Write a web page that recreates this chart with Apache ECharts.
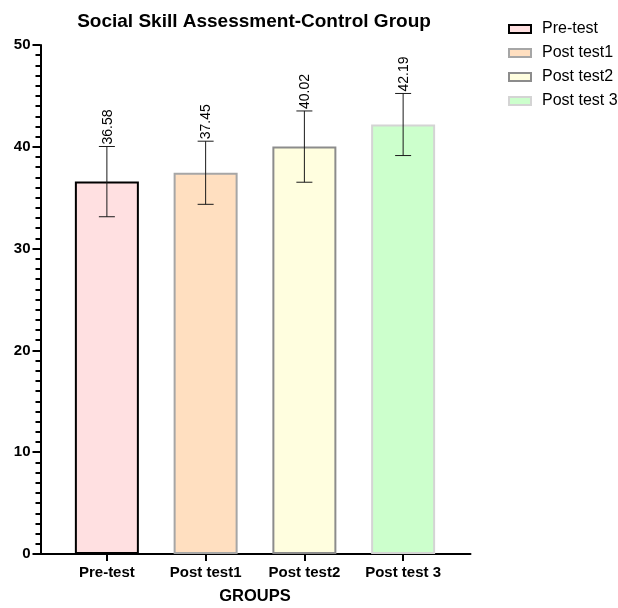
<!DOCTYPE html>
<html>
<head>
<meta charset="utf-8">
<script src="https://cdn.jsdelivr.net/npm/echarts@6/dist/echarts.min.js"></script>
<style>
  html, body { margin: 0; padding: 0; background: #fff; }
  #chart { width: 618px; height: 608px; }
</style>
</head>
<body>
<div id="chart"></div>
<script>
// Group labels and their means / standard deviations
const categories = ['Pre-test', 'Post test1', 'Post test2', 'Post test 3'];
const means = [36.58, 37.45, 40.02, 42.19];
const sds = [3.45, 3.1, 3.5, 3.05];
const fills = ['#FFE0E1', '#FFDFC0', '#FFFEDF', '#CCFFCC'];
const borders = ['#000000', '#A6A6A6', '#8C8C8C', '#D4D4D4'];
const yTicks = [0, 10, 20, 30, 40, 50];

const FONT = 'Liberation Sans, Arial, sans-serif';
const chart = echarts.init(document.getElementById('chart'), null, { renderer: 'canvas' });

// One bar series per group so each gets its own legend entry
const barSeries = categories.map((name, i) => ({
  name: name,
  type: 'bar',
  xAxisIndex: 0,
  yAxisIndex: 0,
  barWidth: 64,
  barGap: '-100%',
  data: categories.map((c, j) => (j === i ? means[i] : '-')),
  itemStyle: { color: fills[i], borderColor: borders[i], borderWidth: 2 },
  emphasis: { disabled: true },
  z: 2
}));

// Error bars with the mean printed above the upper cap
const errorSeries = {
  type: 'custom',
  xAxisIndex: 0,
  yAxisIndex: 0,
  data: categories.map((c, i) => [i, means[i] - sds[i], means[i] + sds[i], means[i]]),
  renderItem: function (params, api) {
    const x = api.value(0);
    const lo = api.coord([x, api.value(1)]);
    const hi = api.coord([x, api.value(2)]);
    const half = 8;
    const style = { stroke: '#1a1a1a', lineWidth: 1 };
    return {
      type: 'group',
      children: [
        { type: 'line', shape: { x1: hi[0], y1: hi[1], x2: lo[0], y2: lo[1] }, style: style },
        { type: 'line', shape: { x1: hi[0] - half, y1: hi[1], x2: hi[0] + half, y2: hi[1] }, style: style },
        { type: 'line', shape: { x1: lo[0] - half, y1: lo[1], x2: lo[0] + half, y2: lo[1] }, style: style },
        {
          type: 'text',
          x: hi[0] + 1,
          y: hi[1] - 2,
          rotation: Math.PI / 2,
          style: {
            text: api.value(3).toFixed(2),
            font: '14px ' + FONT,
            fill: '#000',
            align: 'left',
            verticalAlign: 'middle'
          }
        }
      ]
    };
  },
  z: 5
};

const option = {
  animation: false,
  title: {
    text: 'Social Skill Assessment-Control Group',
    left: 249,
    textAlign: 'center',
    top: 7,
    textStyle: { fontFamily: FONT, fontSize: 19, fontWeight: 'bold', color: '#000' }
  },
  legend: {
    orient: 'vertical',
    left: 508,
    top: 21,
    padding: 0,
    itemWidth: 22,
    itemHeight: 8,
    itemGap: 8,
    icon: 'rect',
    data: categories,
    textStyle: { fontFamily: FONT, fontSize: 16, color: '#000', padding: [0, 0, 0, 6] }
  },
  grid: [
    { left: 57.5, width: 395, top: 45, bottom: 54, outerBoundsMode: 'none', containLabel: false },
    { left: 40.5, width: 430, top: 45, bottom: 54, outerBoundsMode: 'none', containLabel: false }
  ],
  xAxis: [
    {
      type: 'category',
      gridIndex: 0,
      data: categories,
      name: 'GROUPS',
      nameLocation: 'middle',
      nameGap: 34,
      nameTextStyle: { fontFamily: FONT, fontSize: 16.5, fontWeight: 'bold', color: '#000' },
      axisLine: { show: false },
      axisTick: { show: true, alignWithLabel: true, length: 7, lineStyle: { color: '#000', width: 2 } },
      axisLabel: { fontFamily: FONT, fontSize: 15, fontWeight: 'bold', color: '#000', margin: 11 },
      splitLine: { show: false }
    },
    {
      type: 'value',
      gridIndex: 1,
      min: 0,
      max: 1,
      axisLine: { show: true, lineStyle: { color: '#000', width: 2 } },
      axisTick: { show: false },
      axisLabel: { show: false },
      splitLine: { show: false }
    }
  ],
  yAxis: [
    {
      type: 'value',
      gridIndex: 0,
      min: yTicks[0],
      max: yTicks[yTicks.length - 1],
      interval: 10,
      offset: 17,
      axisLine: { show: true, lineStyle: { color: '#000', width: 2 } },
      axisTick: { show: true, length: 8, lineStyle: { color: '#000', width: 2 } },
      minorTick: { show: true, splitNumber: 10, length: 5, lineStyle: { color: '#000', width: 2 } },
      axisLabel: { fontFamily: FONT, fontSize: 15, fontWeight: 'bold', color: '#000', margin: 10 },
      splitLine: { show: false }
    },
    {
      type: 'value',
      gridIndex: 1,
      show: false
    }
  ],
  series: barSeries.concat([errorSeries])
};

chart.setOption(option);
</script>
</body>
</html>
